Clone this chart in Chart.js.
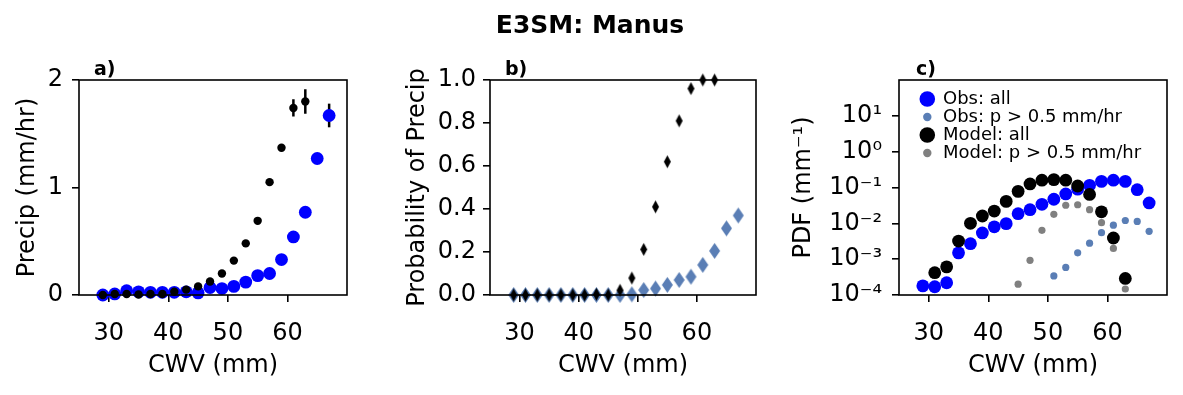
<!DOCTYPE html>
<html>
<head>
<meta charset="utf-8">
<script src="https://cdn.jsdelivr.net/npm/chart.js@4.4.0/dist/chart.umd.min.js"></script>
<style>
  body { margin: 0; background: #fff; }
  #fig { position: relative; width: 1183px; height: 395px; font-family: "DejaVu Sans", sans-serif; color: #000; }
  #fig canvas { position: absolute; top: 0; }
  .lbl { position: absolute; font-weight: bold; line-height: 1; white-space: nowrap; }
</style>
</head>
<body>
<div id="fig">
  <canvas id="precip" width="370" height="395" style="left:0"></canvas>
  <canvas id="prob" width="400" height="395" style="left:380px"></canvas>
  <canvas id="pdf" width="408" height="395" style="left:775px"></canvas>
  <div class="lbl" style="left:0;width:1180px;text-align:center;top:12px;font-size:25px;">E3SM: Manus</div>
  <div class="lbl" style="left:94px;top:59px;font-size:19px;">a)</div>
  <div class="lbl" style="left:505px;top:59px;font-size:19px;">b)</div>
  <div class="lbl" style="left:916px;top:59px;font-size:19px;">c)</div>
</div>
<script>
// CWV bin centres (mm)
const cwvObs = [29, 31, 33, 35, 37, 39, 41, 43, 45, 47, 49, 51, 53, 55, 57, 59, 61, 63, 65, 67];
const cwvMod = [29, 31, 33, 35, 37, 39, 41, 43, 45, 47, 49, 51, 53, 55, 57, 59, 61, 63];
const cwvObsRain = [51, 53, 55, 57, 59, 61, 63, 65, 67];
const cwvModPdf = [31, 33, 35, 37, 39, 41, 43, 45, 47, 49, 51, 53, 55, 57, 59, 61, 63];
const cwvModRain = [45, 47, 49, 51, 53, 55, 57, 59, 61, 63];

// a) conditional mean precip (mm/hr)
const precipObs = [0.0, 0.01, 0.04, 0.03, 0.025, 0.025, 0.025, 0.03, 0.02, 0.07, 0.06, 0.08, 0.12, 0.18, 0.20, 0.33, 0.54, 0.77, 1.27, 1.67];
const precipObsErr = [0, 0, 0, 0, 0, 0, 0, 0, 0, 0, 0, 0, 0, 0, 0, 0, 0, 0, 0, 0.11];
const precipMod = [0.0, 0.01, 0.01, 0.005, 0.01, 0.01, 0.03, 0.05, 0.08, 0.125, 0.2, 0.32, 0.48, 0.69, 1.05, 1.37, 1.74, 1.80];
const precipModErr = [0, 0, 0, 0, 0, 0, 0, 0, 0, 0, 0, 0, 0, 0, 0, 0, 0.08, 0.115];

// b) probability of precip
const probObs = [0, 0, 0, 0, 0, 0, 0, 0, 0, 0, 0.003, 0.023, 0.03, 0.047, 0.07, 0.085, 0.14, 0.205, 0.31, 0.37];
const probMod = [0, 0, 0, 0, 0, 0, 0, 0.003, 0, 0.022, 0.079, 0.212, 0.41, 0.62, 0.81, 0.96, 1.0, 1.0];

// c) PDFs (mm^-1)
const pdfObs = [1.8e-4, 1.7e-4, 2.2e-4, 1.5e-3, 2.7e-3, 5.4e-3, 8e-3, 9.8e-3, 0.0186, 0.024, 0.034, 0.047, 0.066, 0.09, 0.115, 0.148, 0.16, 0.148, 0.087, 0.037];
const pdfObsRain = [3.4e-4, 5.9e-4, 1.5e-3, 2.8e-3, 5.5e-3, 8.9e-3, 0.012, 0.0113, 6e-3];
const pdfMod = [4.2e-4, 6.1e-4, 3.2e-3, 0.01, 0.016, 0.022, 0.041, 0.078, 0.126, 0.16, 0.166, 0.16, 0.11, 0.064, 0.021, 3.9e-3, 2.9e-4];
const pdfModRain = [2.0e-4, 9.3e-4, 6.4e-3, 0.0178, 0.032, 0.033, 0.024, 0.0104, 2.0e-3, 1.47e-4];

const legendLabels = ['Obs: all', 'Obs: p > 0.5 mm/hr', 'Model: all', 'Model: p > 0.5 mm/hr'];

// ticks
const xTicks = [30, 40, 50, 60];
const precipTicks = [0, 1, 2];
const precipTickLabels = ['0', '1', '2'];
const probTicks = [0, 0.2, 0.4, 0.6, 0.8, 1.0];
const probTickLabels = ['0.0', '0.2', '0.4', '0.6', '0.8', '1.0'];
const pdfTicks = [1e-4, 1e-3, 1e-2, 1e-1, 1e0, 1e1];
const pdfTickLabels = ['10\u207B\u2074', '10\u207B\u00B3', '10\u207B\u00B2', '10\u207B\u00B9', '10\u2070', '10\u00B9'];

const BLUE = '#0000ff';
const STEEL = '#5a7eb5';
const GREY = '#808080';

Chart.defaults.font.family = '"DejaVu Sans", sans-serif';
Chart.defaults.color = '#000';
Chart.defaults.animation = false;

const xy = (xs, ys) => xs.map((x, i) => ({ x: x, y: ys[i] }));

function errorSegments(xs, ys, errs) {
    const pts = [];
    xs.forEach((x, i) => {
        if (!errs[i]) return;
        pts.push({ x: x, y: ys[i] - errs[i] }, { x: x, y: ys[i] + errs[i] }, { x: x, y: null });
    });
    return pts;
}

function diamond(w, h, color) {
    const c = document.createElement('canvas');
    c.width = w + 2;
    c.height = h + 2;
    const g = c.getContext('2d');
    g.fillStyle = color;
    g.beginPath();
    g.moveTo(c.width / 2, 1);
    g.lineTo(c.width - 1, c.height / 2);
    g.lineTo(c.width / 2, c.height - 1);
    g.lineTo(1, c.height / 2);
    g.closePath();
    g.fill();
    return c;
}

// legend marker, drawn a bit right of the image centre
function dot(r, color) {
    const c = document.createElement('canvas');
    c.width = 24;
    c.height = 20;
    const g = c.getContext('2d');
    g.fillStyle = color;
    g.beginPath();
    g.arc(14.3, 10, r, 0, Math.PI * 2);
    g.fill();
    return c;
}

// full box around the axes, like matplotlib spines
const frame = {
    id: 'frame',
    afterDatasetsDraw(chart) {
        const { ctx, chartArea: a } = chart;
        ctx.save();
        ctx.strokeStyle = '#000';
        ctx.lineWidth = 1.6;
        ctx.strokeRect(a.left, a.top, a.right - a.left, a.bottom - a.top);
        ctx.restore();
    }
};

// put the legend in the upper left corner of the axes
const legendInside = {
    id: 'legendInside',
    beforeDraw(chart) {
        const lg = chart.legend;
        if (!lg || !chart.options.plugins.legend.display) return;
        lg.left = chart.chartArea.left + 17;
        lg.top = chart.chartArea.top + 10;
        lg.right = chart.chartArea.right;
        lg.bottom = chart.chartArea.bottom;
    }
};

function xAxis() {
    return {
        type: 'linear',
        min: 25,
        max: 70,
        afterBuildTicks: s => { s.ticks = xTicks.map(v => ({ value: v })); },
        afterFit: s => { s.height = 100; },
        ticks: { font: { size: 24 }, padding: 17, maxRotation: 0, autoSkip: false },
        grid: { drawOnChartArea: false, tickLength: 7, color: '#000', lineWidth: 1.6 },
        border: { display: false },
        title: { display: true, text: 'CWV (mm)', font: { size: 24 }, padding: { top: 0, bottom: 15 } }
    };
}

function yAxis(opts) {
    return {
        type: opts.type || 'linear',
        min: opts.min,
        max: opts.max,
        afterBuildTicks: s => { s.ticks = opts.ticks.map(v => ({ value: v })); },
        afterFit: s => { s.width = opts.width; },
        ticks: {
            font: { size: 24 },
            padding: opts.pad,
            autoSkip: false,
            callback: (v, i) => opts.labels[i]
        },
        grid: { drawOnChartArea: false, tickLength: 7, color: '#000', lineWidth: 1.6 },
        border: { display: false },
        title: { display: true, text: opts.title, font: { size: 24 }, padding: { top: opts.titlePad, bottom: 0 } }
    };
}

function baseOptions(padRight, y) {
    return {
        responsive: false,
        animation: false,
        layout: { padding: { top: 80, left: 0, right: padRight, bottom: 0 } },
        plugins: { legend: { display: false }, tooltip: { enabled: false } },
        scales: { x: xAxis(), y: y }
    };
}

const pts = (data, color, r, order) => ({
    type: 'scatter', data: data, order: order, clip: false,
    pointStyle: 'circle', pointRadius: r, pointBorderWidth: 0,
    backgroundColor: color, borderColor: color
});

const errLine = (data, order) => ({
    type: 'line', data: data, order: order, clip: false,
    showLine: true, spanGaps: false, pointRadius: 0,
    borderColor: '#000', borderWidth: 2.5
});

// a) precip
new Chart(document.getElementById('precip'), {
    type: 'scatter',
    data: {
        datasets: [
            errLine(errorSegments(cwvObs, precipObs, precipObsErr), 4),
            pts(xy(cwvObs, precipObs), BLUE, 6.4, 3),
            errLine(errorSegments(cwvMod, precipMod, precipModErr), 2),
            pts(xy(cwvMod, precipMod), '#000', 4.2, 1)
        ]
    },
    options: baseOptions(23, yAxis({
        min: 0, max: 2, ticks: precipTicks, labels: precipTickLabels,
        width: 79, pad: 9, title: 'Precip (mm/hr)', titlePad: 13
    })),
    plugins: [frame]
});

// b) probability of precip
new Chart(document.getElementById('prob'), {
    type: 'scatter',
    data: {
        datasets: [
            { data: xy(cwvObs, probObs), order: 2, clip: false, pointStyle: diamond(11, 16, STEEL), backgroundColor: STEEL },
            { data: xy(cwvMod, probMod), order: 1, clip: false, pointStyle: diamond(7, 13, '#000'), backgroundColor: '#000' }
        ]
    },
    options: baseOptions(24, yAxis({
        min: 0, max: 1, ticks: probTicks, labels: probTickLabels,
        width: 110, pad: 7, title: 'Probability of Precip', titlePad: 23
    })),
    plugins: [frame]
});

// c) PDFs
const legendDots = [dot(7.8, BLUE), dot(4.2, STEEL), dot(7.8, '#000'), dot(4.2, GREY)];
const pdfOptions = baseOptions(16, yAxis({
    type: 'logarithmic', min: 1e-4, max: 1e2, ticks: pdfTicks, labels: pdfTickLabels,
    width: 124, pad: 10, title: 'PDF (mm\u207B\u00B9)', titlePad: 14
}));
pdfOptions.plugins.legend = {
    display: true,
    position: 'chartArea',
    align: 'start',
    labels: {
        usePointStyle: true,
        padding: 0,
        color: '#000',
        font: { size: 18 },
        generateLabels: chart => chart.data.datasets.map((ds, i) => ({
            text: legendLabels[i],
            fillStyle: ds.backgroundColor,
            strokeStyle: ds.backgroundColor,
            lineWidth: 0,
            pointStyle: legendDots[i],
            hidden: false,
            datasetIndex: i,
            fontColor: '#000'
        }))
    }
};

new Chart(document.getElementById('pdf'), {
    type: 'scatter',
    data: {
        datasets: [
            pts(xy(cwvObs, pdfObs), BLUE, 6.4, 4),
            pts(xy(cwvObsRain, pdfObsRain), STEEL, 3.6, 3),
            pts(xy(cwvModPdf, pdfMod), '#000', 6.4, 2),
            pts(xy(cwvModRain, pdfModRain), GREY, 3.6, 1)
        ]
    },
    options: pdfOptions,
    plugins: [frame, legendInside]
});
</script>
</body>
</html>
